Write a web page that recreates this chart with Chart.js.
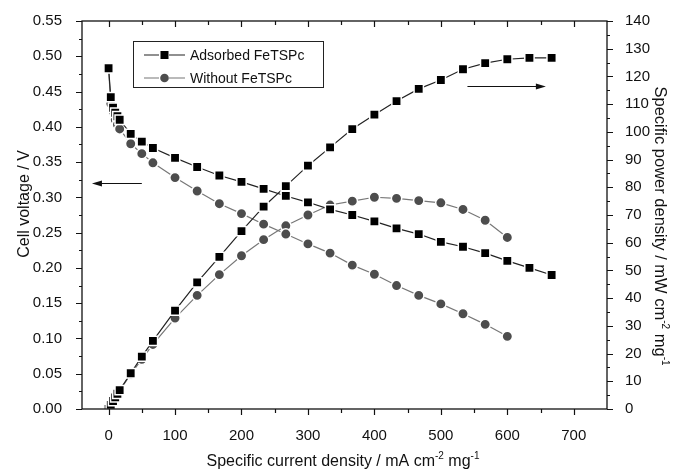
<!DOCTYPE html>
<html>
<head>
<meta charset="utf-8">
<script src="https://cdn.jsdelivr.net/npm/chart.js@4.4.1/dist/chart.umd.min.js"></script>
<style>
  html, body { margin: 0; padding: 0; background: #fff; }
</style>
</head>
<body>
<canvas id="chart" width="674" height="472"></canvas>
<script>
// data
const currentA = [0, 3.3, 6.7, 10, 13.3, 16.7, 33.3, 50, 66.7, 100, 133.3, 166.7, 200, 233.3, 266.7, 300, 333.3, 366.7, 400, 433.3, 466.7, 500, 533.3, 566.7, 600, 633.3, 666.7];
const voltageA = [0.483, 0.442, 0.427, 0.420, 0.415, 0.410, 0.390, 0.379, 0.370, 0.356, 0.343, 0.331, 0.322, 0.312, 0.302, 0.293, 0.283, 0.275, 0.266, 0.256, 0.248, 0.237, 0.230, 0.221, 0.210, 0.200, 0.190];
const powerA = [0, 1.5, 2.9, 4.2, 5.5, 6.8, 12.9, 18.9, 24.6, 35.5, 45.7, 54.9, 64.2, 73.0, 80.4, 87.8, 94.4, 101.0, 106.2, 111.1, 115.5, 118.7, 122.6, 124.8, 126.2, 126.7, 126.7];

const currentW = [0, 3.3, 6.7, 10, 13.3, 16.7, 33.3, 50, 66.7, 100, 133.3, 166.7, 200, 233.3, 266.7, 300, 333.3, 366.7, 400, 433.3, 466.7, 500, 533.3, 566.7, 600];
const voltageW = [0.483, 0.433, 0.422, 0.410, 0.403, 0.397, 0.376, 0.362, 0.349, 0.328, 0.309, 0.291, 0.277, 0.262, 0.248, 0.234, 0.221, 0.204, 0.191, 0.175, 0.161, 0.149, 0.135, 0.120, 0.103];
const powerW = [0, 1.4, 2.8, 4.1, 5.4, 6.6, 12.6, 17.9, 23.3, 32.8, 41.0, 48.5, 55.3, 61.1, 66.1, 70.0, 73.6, 75.0, 76.4, 76.0, 75.2, 74.4, 72.0, 68.1, 61.9];

const xTicks = [0, 100, 200, 300, 400, 500, 600, 700];
const seriesNames = ["Adsorbed FeTSPc", "Without FeTSPc"];

const FONT = "'Liberation Sans', Arial, sans-serif";
const colA = "#000";
const lineA = "#222";
const colW = "#4d4d4d";
const lineW = "#777";

const pairs = (xs, ys) => xs.map((x, i) => ({ x: x, y: ys[i] }));

function ds(label, data, axis, shape, col, lineCol, r) {
  return {
    label: label,
    data: data,
    yAxisID: axis,
    borderColor: lineCol,
    borderWidth: 1.2,
    backgroundColor: col,
    pointStyle: shape,
    pointRadius: r,
    pointHoverRadius: r,
    pointBackgroundColor: col,
    pointBorderColor: "#fff",
    pointBorderWidth: 1.5,
    tension: 0,
    fill: false
  };
}

// frame, ticks, titles, legend, arrows
const decor = {
  id: "decor",
  afterDraw(chart) {
    const ctx = chart.ctx;
    const a = chart.chartArea;
    const x = chart.scales.x, y = chart.scales.y, y1 = chart.scales.y1;
    ctx.save();
    ctx.strokeStyle = "#111";
    ctx.lineWidth = 1.3;
    ctx.strokeRect(a.left, a.top, a.right - a.left, a.bottom - a.top);

    ctx.lineWidth = 1.2;
    ctx.beginPath();
    for (let v = 0; v <= 700; v += 50) {
      const px = Math.round(x.getPixelForValue(v)) + 0.5;
      const len = v % 100 === 0 ? 6 : 4;
      ctx.moveTo(px, a.bottom); ctx.lineTo(px, a.bottom + len);
      ctx.moveTo(px, a.top); ctx.lineTo(px, a.top + len);
    }
    for (let i = 0; i <= 22; i++) {
      const v = i * 0.025;
      const py = Math.round(y.getPixelForValue(v)) + 0.5;
      const len = i % 2 === 0 ? 6 : 3;
      ctx.moveTo(a.left, py); ctx.lineTo(a.left - len, py);
    }
    for (let v = 0; v <= 140; v += 5) {
      const py = Math.round(y1.getPixelForValue(v)) + 0.5;
      const len = v % 10 === 0 ? 6 : 3;
      ctx.moveTo(a.right, py); ctx.lineTo(a.right + len, py);
    }
    ctx.stroke();

    // axis titles
    ctx.fillStyle = "#111";
    ctx.textBaseline = "alphabetic";
    const supText = (parts, cx, cy, size) => {
      let w = 0;
      parts.forEach(p => {
        ctx.font = (p.sup ? "10px " : size + "px ") + FONT;
        w += ctx.measureText(p.t).width;
      });
      let cur = cx - w / 2;
      parts.forEach(p => {
        ctx.font = (p.sup ? "10px " : size + "px ") + FONT;
        ctx.textAlign = "left";
        ctx.fillText(p.t, cur, p.sup ? cy - 7 : cy);
        cur += ctx.measureText(p.t).width;
      });
    };
    supText([{ t: "Specific current density / mA cm" }, { t: "-2", sup: true }, { t: " mg" }, { t: "-1", sup: true }], 343, 466, 16);

    ctx.save();
    ctx.translate(661, 226);
    ctx.rotate(Math.PI / 2);
    supText([{ t: "Specific power density / mW cm" }, { t: "-2", sup: true }, { t: " mg" }, { t: "-1", sup: true }], 0, 6, 16.5);
    ctx.restore();

    ctx.save();
    ctx.translate(29, 204);
    ctx.rotate(-Math.PI / 2);
    ctx.font = "16px " + FONT;
    ctx.textAlign = "center";
    ctx.fillText("Cell voltage / V", 0, 0);
    ctx.restore();

    // legend box
    const lx = a.left + 51, ly = a.top + 20;
    ctx.lineWidth = 1;
    ctx.strokeStyle = "#222";
    ctx.strokeRect(lx + 0.5, ly + 0.5, 190, 46);
    const sets = [chart.data.datasets[0], chart.data.datasets[2]];
    sets.forEach((d, i) => {
      const yy = ly + 14 + i * 23;
      ctx.strokeStyle = d.borderColor;
      ctx.lineWidth = 1.2;
      ctx.beginPath();
      ctx.moveTo(lx + 11, yy); ctx.lineTo(lx + 26, yy);
      ctx.moveTo(lx + 36, yy); ctx.lineTo(lx + 52, yy);
      ctx.stroke();
      ctx.fillStyle = d.pointBackgroundColor;
      ctx.beginPath();
      if (d.pointStyle === "rect") {
        ctx.rect(lx + 27.5, yy - 4, 8, 8);
      } else {
        ctx.arc(lx + 31.5, yy, 4.3, 0, Math.PI * 2);
      }
      ctx.fill();
      ctx.fillStyle = "#111";
      ctx.font = "14px " + FONT;
      ctx.textAlign = "left";
      ctx.textBaseline = "middle";
      ctx.fillText(seriesNames[i], lx + 57, yy + 1);
    });

    // arrows pointing at each axis
    const arrow = (x0, x1, py) => {
      ctx.strokeStyle = "#111";
      ctx.fillStyle = "#111";
      ctx.lineWidth = 1.2;
      ctx.beginPath();
      ctx.moveTo(x0, py); ctx.lineTo(x1, py);
      ctx.stroke();
      const dir = x1 > x0 ? 1 : -1;
      ctx.beginPath();
      ctx.moveTo(x1 + dir * 2, py);
      ctx.lineTo(x1 - dir * 8, py - 3);
      ctx.lineTo(x1 - dir * 8, py + 3);
      ctx.closePath();
      ctx.fill();
    };
    const yl = Math.round(y.getPixelForValue(0.32)) + 0.5;
    arrow(x.getPixelForValue(50), x.getPixelForValue(-22), yl);
    const yr = Math.round(y1.getPixelForValue(116.7)) + 0.5;
    arrow(x.getPixelForValue(540), x.getPixelForValue(655), yr);
    ctx.restore();
  }
};

const ctx = document.getElementById("chart").getContext("2d");
new Chart(ctx, {
  type: "line",
  data: {
    datasets: [
      ds(seriesNames[0], pairs(currentA, voltageA), "y", "rect", colA, lineA, 6.6),
      ds(seriesNames[0], pairs(currentA, powerA), "y1", "rect", colA, lineA, 6.6),
      ds(seriesNames[1], pairs(currentW, voltageW), "y", "circle", colW, lineW, 5.2),
      ds(seriesNames[1], pairs(currentW, powerW), "y1", "circle", colW, lineW, 5.2)
    ]
  },
  options: {
    responsive: false,
    animation: false,
    layout: { padding: { top: 19, left: 0, right: 0, bottom: 0 } },
    plugins: { legend: { display: false }, tooltip: { enabled: false } },
    scales: {
      x: {
        type: "linear",
        min: -40,
        max: 750,
        afterBuildTicks: s => { s.ticks = xTicks.map(v => ({ value: v })); },
        afterFit: s => { s.height = 63; },
        grid: { display: false },
        border: { display: false },
        ticks: { autoSkip: false, maxRotation: 0, padding: 10, color: "#111", font: { family: FONT, size: 15 } }
      },
      y: {
        position: "left",
        min: 0,
        max: 0.55,
        afterFit: s => { s.width = 82; },
        grid: { display: false },
        border: { display: false },
        ticks: { stepSize: 0.05, padding: 12, color: "#111", font: { family: FONT, size: 15 }, callback: v => v.toFixed(2) }
      },
      y1: {
        position: "right",
        min: 0,
        max: 140,
        afterFit: s => { s.width = 67; },
        grid: { display: false },
        border: { display: false },
        ticks: { stepSize: 10, padding: 10, color: "#111", font: { family: FONT, size: 15 } }
      }
    }
  },
  plugins: [decor]
});
</script>
</body>
</html>
